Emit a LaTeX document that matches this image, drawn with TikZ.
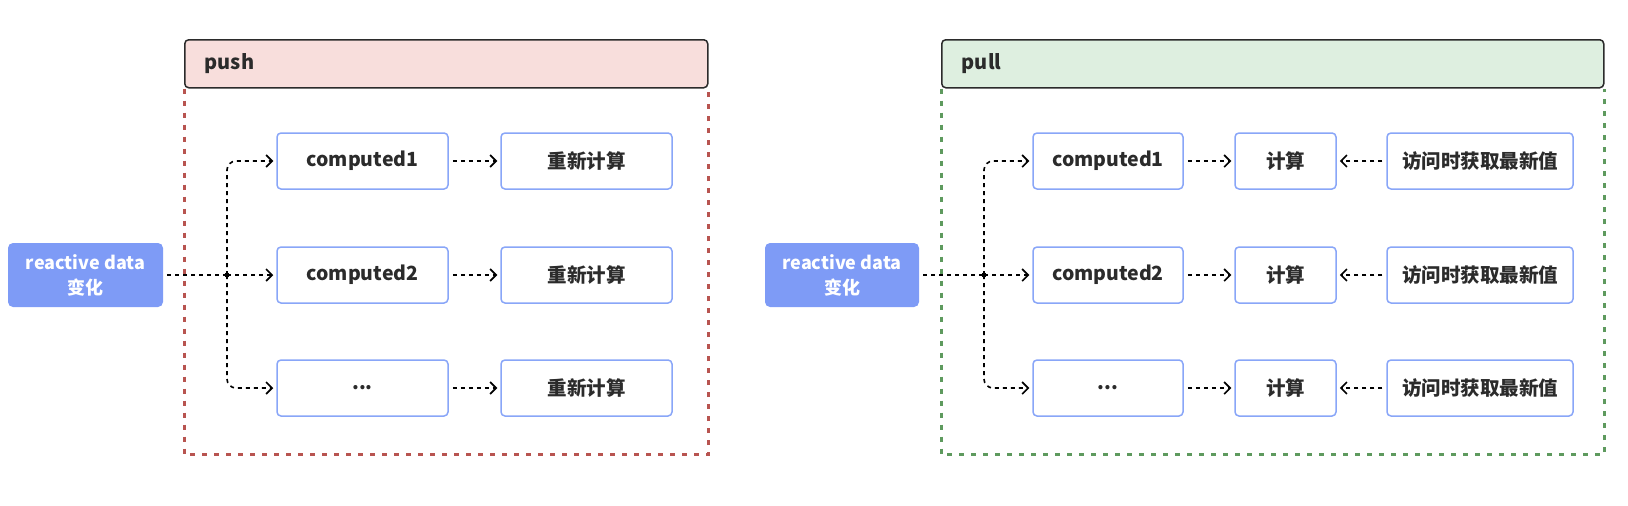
\documentclass[tikz,border=0pt]{standalone}
\usepackage{fontspec}
\setmainfont{Noto Sans CJK SC}
\usetikzlibrary{arrows.meta}
\definecolor{pushfill}{HTML}{F8DEDC}
\definecolor{pullfill}{HTML}{DEEFE0}
\definecolor{pushred}{HTML}{B85450}
\definecolor{pullgreen}{HTML}{5E9A5E}
\definecolor{boxblue}{HTML}{89A6F8}
\definecolor{srcblue}{HTML}{7E9BF6}
\definecolor{textdark}{HTML}{2B2B2B}

\begin{document}
\begin{tikzpicture}[
    x=1pt, y=-1pt,
    box/.style={draw=boxblue, line width=1.5pt, rounded corners=4pt, fill=white, minimum height=56pt, text=textdark, font=\fontsize{19.5}{24}\selectfont\bfseries},
    src/.style={fill=srcblue, rounded corners=5pt, minimum width=155pt, minimum height=64pt, text=white, align=center, font=\fontsize{18}{25}\selectfont\bfseries},
    header/.style={draw=textdark, line width=1.5pt, rounded corners=4pt, minimum height=48pt, inner xsep=20pt, align=left, anchor=north west, text=textdark, font=\fontsize{20}{24}\selectfont\bfseries},
    frame/.style={line width=3pt, dash pattern=on 5pt off 7pt},
    link/.style={line width=1.6pt, dash pattern=on 4pt off 4pt, shorten <=4pt},
    flow/.style={-{Straight Barb[length=6pt,width=12pt]}, line width=1.6pt, dash pattern=on 4pt off 4pt, shorten >=3pt},
    dot/.style={circle, fill=black, inner sep=0pt, minimum size=5pt}
]
\useasboundingbox (0,0) rectangle (1628,506);

\node[header, fill=pushfill, text width=483pt] (PH) at (184,39) {push};
\draw[frame, draw=pushred] (PH.south west) -- ++(0,366) -| (PH.south east);

\node[src] (S1) at (85.5,275) {reactive data\\变化};
\node[dot] (J1) at (227,275) {};

\node[box, minimum width=171pt] (C11) at (362.5,161) {computed1};
\node[box, minimum width=171pt] (C12) at (362.5,275) {computed2};
\node[box, minimum width=171pt] (C13) at (362.5,388) {...};

\node[box, minimum width=171pt] (R11) at (586.5,161) {重新计算};
\node[box, minimum width=171pt] (R12) at (586.5,275) {重新计算};
\node[box, minimum width=171pt] (R13) at (586.5,388) {重新计算};

\draw[link] (S1.east) -- (J1.center);
\draw[flow] (J1.center) -- (C12.west);
\draw[flow, rounded corners=9pt] (J1.center) |- (C11.west);
\draw[flow, rounded corners=9pt] (J1.center) |- (C13.west);
\draw[flow, shorten <=4pt] (C11.east) -- (R11.west);
\draw[flow, shorten <=4pt] (C12.east) -- (R12.west);
\draw[flow, shorten <=4pt] (C13.east) -- (R13.west);

\node[header, fill=pullfill, text width=622pt] (QH) at (941,39) {pull};
\draw[frame, draw=pullgreen] (QH.south west) -- ++(0,366) -| (QH.south east);

\node[src, minimum width=154pt] (S2) at (842,275) {reactive data\\变化};
\node[dot] (J2) at (984,275) {};

\node[box, minimum width=150pt] (C21) at (1108,161) {computed1};
\node[box, minimum width=150pt] (C22) at (1108,275) {computed2};
\node[box, minimum width=150pt] (C23) at (1108,388) {...};

\node[box, minimum width=101pt] (K1) at (1285.5,161) {计算};
\node[box, minimum width=101pt] (K2) at (1285.5,275) {计算};
\node[box, minimum width=101pt] (K3) at (1285.5,388) {计算};

\node[box, minimum width=186pt] (V1) at (1480,161) {访问时获取最新值};
\node[box, minimum width=186pt] (V2) at (1480,275) {访问时获取最新值};
\node[box, minimum width=186pt] (V3) at (1480,388) {访问时获取最新值};

\draw[link] (S2.east) -- (J2.center);
\draw[flow] (J2.center) -- (C22.west);
\draw[flow, rounded corners=9pt] (J2.center) |- (C21.west);
\draw[flow, rounded corners=9pt] (J2.center) |- (C23.west);
\draw[flow, shorten <=4pt] (C21.east) -- (K1.west);
\draw[flow, shorten <=4pt] (C22.east) -- (K2.west);
\draw[flow, shorten <=4pt] (C23.east) -- (K3.west);
\draw[flow, shorten <=4pt] (V1.west) -- (K1.east);
\draw[flow, shorten <=4pt] (V2.west) -- (K2.east);
\draw[flow, shorten <=4pt] (V3.west) -- (K3.east);

\end{tikzpicture}
\end{document}
